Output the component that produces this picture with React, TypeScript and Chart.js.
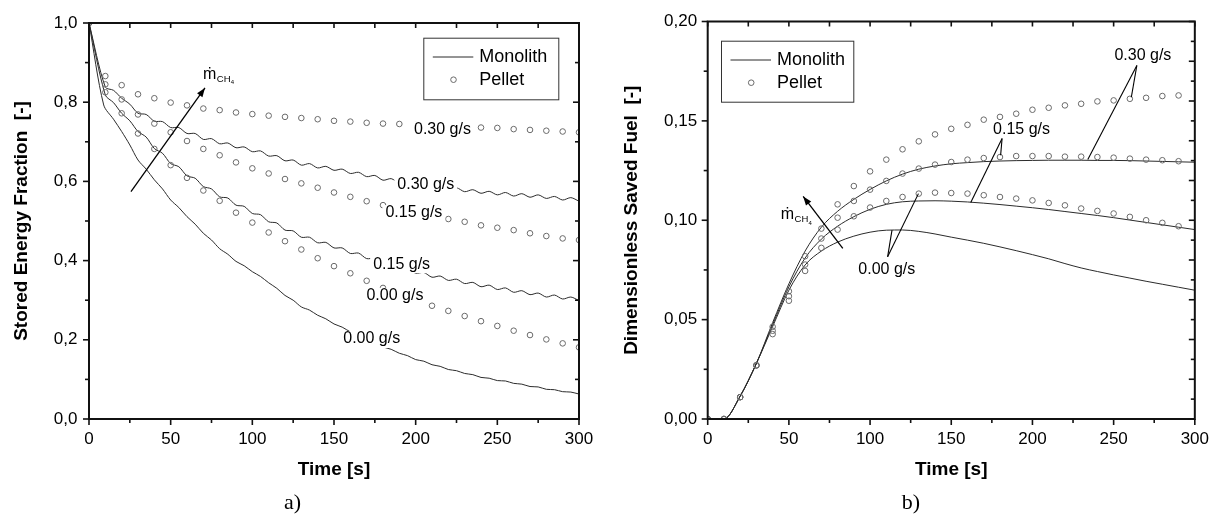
import React, { useEffect, useRef } from 'react';
import { Chart, registerables } from 'chart.js';

Chart.register(...registerables);

const FONT = '"Liberation Sans", Arial, Helvetica, "DejaVu Sans", sans-serif';
const SERIF = '"Liberation Serif", "Times New Roman", serif';

// ---------------- a) Stored Energy Fraction ----------------
const pelletTimeA = [0, 10, 20, 30, 40, 50, 60, 70, 80, 90, 100, 110, 120, 130, 140, 150, 160, 170, 180, 190, 200, 210, 220, 230, 240, 250, 260, 270, 280, 290, 300];
const pelletA030 = [1.0, 0.866, 0.843, 0.82, 0.81, 0.799, 0.792, 0.784, 0.78, 0.774, 0.77, 0.766, 0.763, 0.76, 0.757, 0.753, 0.751, 0.748, 0.746, 0.745, 0.743, 0.741, 0.74, 0.738, 0.736, 0.735, 0.732, 0.73, 0.728, 0.726, 0.724];
const pelletA015 = [1.0, 0.845, 0.807, 0.769, 0.746, 0.724, 0.702, 0.682, 0.666, 0.648, 0.633, 0.62, 0.606, 0.595, 0.584, 0.572, 0.561, 0.55, 0.54, 0.53, 0.52, 0.512, 0.505, 0.498, 0.489, 0.483, 0.477, 0.469, 0.462, 0.456, 0.452];
const pelletA000 = [1.0, 0.825, 0.772, 0.721, 0.682, 0.641, 0.609, 0.577, 0.551, 0.521, 0.496, 0.471, 0.449, 0.428, 0.406, 0.386, 0.368, 0.349, 0.331, 0.315, 0.3, 0.286, 0.273, 0.26, 0.247, 0.235, 0.223, 0.212, 0.201, 0.191, 0.181];

const monoTimeA = [0, 10, 15, 20, 25, 30, 35, 40, 45, 50, 55, 60, 65, 70, 75, 80, 85, 90, 95, 100, 105, 110, 115, 120, 125, 130, 135, 140, 145, 150, 155, 160, 165, 170, 175, 180, 185, 190, 195, 200, 205, 210, 215, 220, 225, 230, 235, 240, 245, 250, 255, 260, 265, 270, 275, 280, 285, 290, 295, 300];
const monoA030 = [1.0, 0.838, 0.83, 0.81, 0.795, 0.772, 0.769, 0.752, 0.751, 0.736, 0.736, 0.721, 0.721, 0.706, 0.708, 0.695, 0.697, 0.685, 0.687, 0.675, 0.677, 0.664, 0.665, 0.652, 0.654, 0.641, 0.645, 0.634, 0.638, 0.628, 0.631, 0.62, 0.623, 0.612, 0.615, 0.603, 0.607, 0.596, 0.6, 0.59, 0.595, 0.585, 0.589, 0.579, 0.584, 0.574, 0.579, 0.57, 0.575, 0.566, 0.572, 0.563, 0.569, 0.56, 0.566, 0.557, 0.562, 0.553, 0.559, 0.55];
const monoA015 = [1.0, 0.818, 0.799, 0.772, 0.753, 0.726, 0.712, 0.683, 0.671, 0.645, 0.637, 0.614, 0.608, 0.587, 0.581, 0.561, 0.558, 0.54, 0.537, 0.519, 0.516, 0.498, 0.495, 0.477, 0.475, 0.459, 0.459, 0.445, 0.446, 0.432, 0.432, 0.418, 0.419, 0.405, 0.406, 0.392, 0.393, 0.38, 0.381, 0.368, 0.37, 0.358, 0.361, 0.35, 0.353, 0.342, 0.345, 0.334, 0.338, 0.327, 0.331, 0.32, 0.324, 0.314, 0.318, 0.308, 0.313, 0.303, 0.308, 0.299];
const monoTimeA000 = [0, 9, 15, 20, 25, 30, 35, 40, 45, 50, 55, 60, 65, 70, 75, 80, 85, 90, 95, 100, 105, 110, 115, 120, 125, 130, 135, 140, 145, 150, 155, 160, 165, 170, 175, 180, 185, 190, 195, 200, 205, 210, 215, 220, 225, 230, 235, 240, 245, 250, 255, 260, 265, 270, 275, 280, 285, 290, 295, 300];
const monoA000 = [1.0, 0.793, 0.757, 0.726, 0.692, 0.654, 0.631, 0.604, 0.581, 0.553, 0.534, 0.511, 0.492, 0.469, 0.452, 0.43, 0.416, 0.398, 0.387, 0.372, 0.36, 0.344, 0.33, 0.312, 0.3, 0.283, 0.275, 0.262, 0.253, 0.24, 0.232, 0.22, 0.212, 0.2, 0.193, 0.182, 0.176, 0.166, 0.16, 0.15, 0.146, 0.137, 0.133, 0.125, 0.122, 0.115, 0.112, 0.105, 0.103, 0.097, 0.096, 0.09, 0.088, 0.082, 0.081, 0.075, 0.074, 0.069, 0.068, 0.063];

// ---------------- b) Dimensionless Saved Fuel ----------------
const pelletTimeB = [0, 10, 20, 30, 40, 50, 60, 70, 80, 90, 100, 110, 120, 130, 140, 150, 160, 170, 180, 190, 200, 210, 220, 230, 240, 250, 260, 270, 280, 290];
const pelletB030 = [0, 0, 0.011, 0.027, 0.0464, 0.0643, 0.0819, 0.0958, 0.108, 0.1172, 0.1246, 0.1305, 0.1357, 0.1397, 0.1432, 0.146, 0.148, 0.1506, 0.152, 0.1536, 0.1556, 0.1566, 0.1578, 0.1586, 0.1598, 0.1603, 0.1611, 0.1616, 0.1625, 0.1628];
const pelletB015 = [0, 0, 0.011, 0.027, 0.0444, 0.0618, 0.0777, 0.0908, 0.1013, 0.1097, 0.1154, 0.1198, 0.1235, 0.126, 0.128, 0.1293, 0.1305, 0.1313, 0.1318, 0.1323, 0.1323, 0.1323, 0.132, 0.132, 0.1318, 0.1315, 0.131, 0.1305, 0.1302, 0.1297];
const pelletB000 = [0, 0, 0.011, 0.027, 0.0427, 0.0595, 0.0745, 0.0861, 0.0953, 0.102, 0.1064, 0.1097, 0.1117, 0.1134, 0.1139, 0.1137, 0.1134, 0.1126, 0.1117, 0.1109, 0.11, 0.1087, 0.1075, 0.1059, 0.1047, 0.1034, 0.1017, 0.1, 0.0987, 0.097];

const monoTimeB = [0, 10, 20, 30, 40, 50, 60, 70, 80, 90, 100, 110, 120, 130, 140, 150, 160, 170, 180, 190, 200, 210, 220, 230, 240, 250, 260, 270, 280, 290, 300];
const monoB030 = [0, 0, 0.0115, 0.028, 0.0485, 0.068, 0.0845, 0.0965, 0.1045, 0.1105, 0.1155, 0.1198, 0.1232, 0.1257, 0.1273, 0.1284, 0.129, 0.1295, 0.1298, 0.13, 0.1301, 0.1302, 0.1302, 0.1302, 0.1301, 0.1301, 0.13, 0.1298, 0.1296, 0.1294, 0.1292];
const monoB015 = [0, 0, 0.0115, 0.028, 0.0475, 0.0665, 0.081, 0.0905, 0.097, 0.1018, 0.1055, 0.108, 0.1093, 0.1097, 0.1098, 0.1096, 0.1092, 0.1086, 0.1079, 0.1071, 0.1063, 0.1054, 0.1044, 0.1034, 0.1024, 0.1013, 0.1001, 0.0989, 0.0977, 0.0965, 0.0953];
const monoB000 = [0, 0, 0.0115, 0.028, 0.0465, 0.0648, 0.0775, 0.0845, 0.089, 0.092, 0.094, 0.095, 0.0951, 0.0944, 0.0931, 0.0915, 0.09, 0.0884, 0.0866, 0.0847, 0.0827, 0.0806, 0.0782, 0.076, 0.0742, 0.0725, 0.0709, 0.0693, 0.0678, 0.0663, 0.0648];

// ---------------- annotations (data coordinates) ----------------
const labelsA = [
  { text: '0.30 g/s', x: 216.4, y: 0.732 },
  { text: '0.30 g/s', x: 206.2, y: 0.593 },
  { text: '0.15 g/s', x: 198.9, y: 0.52 },
  { text: '0.15 g/s', x: 191.4, y: 0.391 },
  { text: '0.00 g/s', x: 187.3, y: 0.311 },
  { text: '0.00 g/s', x: 173.1, y: 0.202 },
];
const labelsB = [
  { text: '0.30 g/s', x: 268.0, y: 0.1826 },
  { text: '0.15 g/s', x: 193.3, y: 0.1457 },
  { text: '0.00 g/s', x: 110.3, y: 0.075 },
];
const leadersB = [
  [264.3, 0.1779, 260.9, 0.1619],
  [264.3, 0.1779, 234.1, 0.1306],
  [181.3, 0.1411, 180.4, 0.1327],
  [181.3, 0.1411, 162.0, 0.1089],
  [110.8, 0.0816, 113.5, 0.095],
  [110.8, 0.0816, 129.8, 0.1134],
];
const arrowA = [25.7, 0.574, 71.0, 0.836];
const arrowB = [83.2, 0.0858, 58.8, 0.112];
const mdotA = { x: 69.8, y: 0.8586 };
const mdotB = { x: 45.0, y: 0.1005 };

type Panel = {
  left: number;
  width: number;
  padding: { left: number; top: number; right: number; bottom: number };
  yWidth: number;
  yMax: number;
  yStep: number;
  yDec: number;
  yMinor: number;
  rStep: number;
  rMajorEvery: number;
  yTitle: string;
  yTickPad: number;
  monotone: boolean;
  lines: { t: number[]; v: number[] }[];
  pellets: { t: number[]; v: number[] }[];
  labels: { text: string; x: number; y: number }[];
  leaders: number[][];
  arrow: number[];
  mdot: { x: number; y: number };
  legend: { dx: number; dy: number; w: number; h: number };
  caption: { text: string; x: number; y: number };
};

const panelA: Panel = {
  left: 0,
  width: 610,
  padding: { left: 0, top: 23, right: 31, bottom: 33 },
  yWidth: 89,
  yMax: 1.0,
  yStep: 0.2,
  yDec: 1,
  yMinor: 0.1,
  rStep: 0.1,
  rMajorEvery: 2,
  yTitle: 'Stored Energy Fraction  [-]',
  yTickPad: 11.5,
  monotone: false,
  lines: [
    { t: monoTimeA000, v: monoA000 },
    { t: monoTimeA, v: monoA015 },
    { t: monoTimeA, v: monoA030 },
  ],
  pellets: [
    { t: pelletTimeA, v: pelletA000 },
    { t: pelletTimeA, v: pelletA015 },
    { t: pelletTimeA, v: pelletA030 },
  ],
  labels: labelsA,
  leaders: [],
  arrow: arrowA,
  mdot: mdotA,
  legend: { dx: 334.3, dy: 14.7, w: 135, h: 61.6 },
  caption: { text: 'a)', x: 292.5, y: 509 },
};

const panelB: Panel = {
  left: 610,
  width: 609,
  padding: { left: 0, top: 21.5, right: 22.3, bottom: 33 },
  yWidth: 97.7,
  yMax: 0.2,
  yStep: 0.05,
  yDec: 2,
  yMinor: 0.025,
  rStep: 0.01,
  rMajorEvery: 2,
  yTitle: 'Dimensionless Saved Fuel  [-]',
  yTickPad: 10.5,
  monotone: true,
  lines: [
    { t: monoTimeB, v: monoB000 },
    { t: monoTimeB, v: monoB015 },
    { t: monoTimeB, v: monoB030 },
  ],
  pellets: [
    { t: pelletTimeB, v: pelletB000 },
    { t: pelletTimeB, v: pelletB015 },
    { t: pelletTimeB, v: pelletB030 },
  ],
  labels: labelsB,
  leaders: leadersB,
  arrow: arrowB,
  mdot: mdotB,
  legend: { dx: 13.3, dy: 19.2, w: 132.3, h: 61 },
  caption: { text: 'b)', x: 301, y: 509 },
};

function makePlugin(p: Panel) {
  return {
    id: 'decor',
    afterDatasetsDraw(chart: any) {
      const { ctx, chartArea: a, scales } = chart;
      const X = (v: number) => scales.x.getPixelForValue(v);
      const Y = (v: number) => scales.y.getPixelForValue(v);
      ctx.save();

      // in-plot labels with white backgrounds
      ctx.font = `16px ${FONT}`;
      ctx.textAlign = 'center';
      ctx.textBaseline = 'middle';
      for (const l of p.labels) {
        const cx = X(l.x);
        const cy = Y(l.y);
        const w = ctx.measureText(l.text).width;
        ctx.fillStyle = '#fff';
        ctx.fillRect(cx - w / 2 - 3, cy - 8, w + 6, 17);
        ctx.fillStyle = '#000';
        ctx.fillText(l.text, cx, cy);
      }

      // leader lines
      ctx.strokeStyle = '#000';
      ctx.lineWidth = 1.1;
      for (const s of p.leaders) {
        ctx.beginPath();
        ctx.moveTo(X(s[0]), Y(s[1]));
        ctx.lineTo(X(s[2]), Y(s[3]));
        ctx.stroke();
      }

      // arrow
      {
        const x1 = X(p.arrow[0]), y1 = Y(p.arrow[1]), x2 = X(p.arrow[2]), y2 = Y(p.arrow[3]);
        ctx.lineWidth = 1.3;
        ctx.beginPath();
        ctx.moveTo(x1, y1);
        ctx.lineTo(x2, y2);
        ctx.stroke();
        const ang = Math.atan2(y2 - y1, x2 - x1);
        const L = 9, W = 3.3;
        ctx.fillStyle = '#000';
        ctx.beginPath();
        ctx.moveTo(x2, y2);
        ctx.lineTo(x2 - L * Math.cos(ang) + W * Math.sin(ang), y2 - L * Math.sin(ang) - W * Math.cos(ang));
        ctx.lineTo(x2 - L * Math.cos(ang) - W * Math.sin(ang), y2 - L * Math.sin(ang) + W * Math.cos(ang));
        ctx.closePath();
        ctx.fill();
      }

      // m-dot CH4 label
      {
        const mx = X(p.mdot.x), my = Y(p.mdot.y);
        ctx.fillStyle = '#000';
        ctx.textAlign = 'left';
        ctx.textBaseline = 'alphabetic';
        ctx.font = `16px ${FONT}`;
        ctx.fillText('ṁ', mx, my);
        const mw = ctx.measureText('ṁ').width;
        ctx.font = `9.5px ${FONT}`;
        ctx.fillText('CH', mx + mw + 0.5, my + 3);
        const cw = ctx.measureText('CH').width;
        ctx.font = `6px ${FONT}`;
        ctx.fillText('4', mx + mw + 0.8 + cw, my + 5.5);
      }

      // frame
      ctx.strokeStyle = '#111';
      ctx.lineWidth = 2;
      ctx.strokeRect(a.left, a.top, a.right - a.left, a.bottom - a.top);

      // ticks
      ctx.lineWidth = 1.6;
      const seg = (x1: number, y1: number, x2: number, y2: number) => {
        ctx.beginPath();
        ctx.moveTo(x1, y1);
        ctx.lineTo(x2, y2);
        ctx.stroke();
      };
      for (let i = 0; i <= 12; i++) {
        const px = X(i * 25);
        const L = i % 2 === 0 ? 6 : 4;
        seg(px, a.bottom, px, a.bottom + L);
        seg(px, a.top, px, a.top + 5);
      }
      const nl = Math.round(p.yMax / p.yMinor);
      for (let i = 0; i <= nl; i++) {
        const py = Y(i * p.yMinor);
        const L = i % 2 === 0 ? 6 : 4;
        seg(a.left - L, py, a.left, py);
      }
      const nr = Math.round(p.yMax / p.rStep);
      for (let i = 0; i <= nr; i++) {
        const py = Y(i * p.rStep);
        const L = i % p.rMajorEvery === 0 ? 6 : 4;
        seg(a.right - L, py, a.right, py);
      }

      // legend
      {
        const lx = a.left + p.legend.dx, ly = a.top + p.legend.dy;
        ctx.fillStyle = '#fff';
        ctx.fillRect(lx, ly, p.legend.w, p.legend.h);
        ctx.strokeStyle = '#333';
        ctx.lineWidth = 1;
        ctx.strokeRect(lx + 0.5, ly + 0.5, p.legend.w, p.legend.h);
        ctx.strokeStyle = '#2b2b2b';
        seg(lx + 9.5, ly + 19.3, lx + 50, ly + 19.3);
        ctx.strokeStyle = '#6a6a6a';
        ctx.beginPath();
        ctx.arc(lx + 30.2, ly + 42, 2.8, 0, Math.PI * 2);
        ctx.stroke();
        ctx.fillStyle = '#000';
        ctx.font = `18px ${FONT}`;
        ctx.textAlign = 'left';
        ctx.textBaseline = 'middle';
        ctx.fillText('Monolith', lx + 56, ly + 19.3);
        ctx.fillText('Pellet', lx + 56, ly + 42);
      }

      // caption
      ctx.fillStyle = '#000';
      ctx.font = `22px ${SERIF}`;
      ctx.textAlign = 'center';
      ctx.textBaseline = 'alphabetic';
      ctx.fillText(p.caption.text, p.caption.x, p.caption.y);

      ctx.restore();
    },
  };
}

function buildConfig(p: Panel): any {
  const lineDs = (s: { t: number[]; v: number[] }) => ({
    data: s.t.map((t, i) => ({ x: t, y: s.v[i] })),
    showLine: true,
    borderColor: '#2b2b2b',
    backgroundColor: 'rgba(0,0,0,0)',
    borderWidth: 1,
    pointRadius: 0,
    pointHoverRadius: 0,
    tension: p.monotone ? 0 : 0.3,
    cubicInterpolationMode: p.monotone ? 'monotone' : 'default',
    fill: false,
    clip: 0,
    order: 2,
  });
  const ptDs = (s: { t: number[]; v: number[] }) => ({
    data: s.t.map((t, i) => ({ x: t, y: s.v[i] })),
    showLine: false,
    pointStyle: 'circle',
    pointRadius: 2.8,
    pointHoverRadius: 2.8,
    pointBorderWidth: 1,
    pointBorderColor: '#6a6a6a',
    pointBackgroundColor: 'rgba(0,0,0,0)',
    borderColor: '#6a6a6a',
    backgroundColor: 'rgba(0,0,0,0)',
    clip: 0,
    order: 1,
  });
  return {
    type: 'scatter',
    data: {
      datasets: [...p.lines.map(lineDs), ...p.pellets.map(ptDs)],
    },
    options: {
      responsive: false,
      maintainAspectRatio: false,
      animation: false,
      events: [],
      layout: { padding: p.padding },
      plugins: { legend: { display: false }, tooltip: { enabled: false } },
      scales: {
        x: {
          type: 'linear',
          min: 0,
          max: 300,
          grid: { display: false, drawTicks: false },
          border: { display: false },
          ticks: {
            stepSize: 50,
            padding: 10,
            color: '#000',
            maxRotation: 0,
            autoSkip: false,
            font: { family: FONT, size: 17 },
            callback: (v: any) => String(v),
          },
          title: {
            display: true,
            text: 'Time [s]',
            color: '#000',
            font: { family: FONT, size: 19, weight: 'bold' },
            padding: { top: 0, bottom: 0 },
          },
          afterFit: (s: any) => {
            s.height = 62;
          },
        },
        y: {
          type: 'linear',
          min: 0,
          max: p.yMax,
          grid: { display: false, drawTicks: false },
          border: { display: false },
          ticks: {
            stepSize: p.yStep,
            padding: p.yTickPad,
            color: '#000',
            autoSkip: false,
            font: { family: FONT, size: 17 },
            callback: (v: any) => Number(v).toFixed(p.yDec).replace('.', ','),
          },
          title: {
            display: true,
            text: p.yTitle,
            color: '#000',
            font: { family: FONT, size: 19, weight: 'bold' },
            padding: { top: 10.6, bottom: 0 },
          },
          afterFit: (s: any) => {
            s.width = p.yWidth;
          },
        },
      },
    },
    plugins: [makePlugin(p)],
  };
}

function ChartPanel({ panel }: { panel: Panel }) {
  const ref = useRef<HTMLCanvasElement | null>(null);
  useEffect(() => {
    if (!ref.current) return;
    const chart = new Chart(ref.current, buildConfig(panel));
    return () => chart.destroy();
  }, [panel]);
  return (
    <canvas
      ref={ref}
      width={panel.width}
      height={514}
      style={{ position: 'absolute', left: panel.left, top: 0, width: panel.width, height: 514 }}
    />
  );
}

export default function App() {
  return (
    <div style={{ position: 'absolute', left: 0, top: 0, width: 1219, height: 514, background: '#fff', overflow: 'hidden' }}>
      <ChartPanel panel={panelA} />
      <ChartPanel panel={panelB} />
    </div>
  );
}
